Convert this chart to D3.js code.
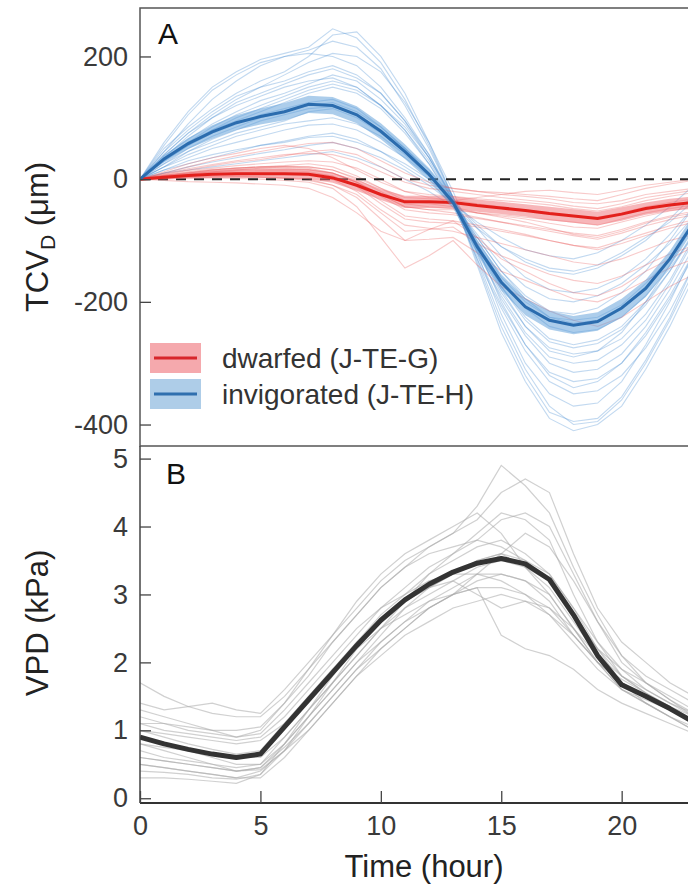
<!DOCTYPE html>
<html>
<head>
<meta charset="utf-8">
<script src="https://cdn.jsdelivr.net/npm/d3@7"></script>
<style>
    body { margin: 0; background: #fff; }
    svg { display: block; }
    text { font-family: "Liberation Sans", Arial, sans-serif; }
</style>
</head>
<body>
<div id="chart"></div>
<script>
// hours of the day (x values)
const hours = [0,1,2,3,4,5,6,7,8,9,10,11,12,13,14,15,16,17,18,19,20,21,22,23,24];

// panel A: mean TCV_D (um) and standard error per hour
const dwarfMean = [0,3,6,8,9,9,9,8,2,-10,-25,-37,-37,-38,-43,-47,-51,-56,-60,-64,-57,-48,-42,-38,-30];
const dwarfSE   = [0,4,5,6,7,7,8,8,8,9,9,10,10,10,10,10,10,11,11,11,11,10,10,10,10];
const invigMean = [0,33,58,77,92,102,110,122,120,105,78,45,8,-38,-110,-168,-208,-230,-238,-232,-210,-178,-130,-70,-10];
const invigSE   = [0,6,9,11,12,13,14,14,14,14,13,12,10,9,11,13,14,15,15,15,15,14,13,12,10];

// panel A: individual days, dwarfed (J-TE-G)
const dwarfDays = [
    [0,5,10,15,18,20,22,25,20,5,-15,-35,-40,-45,-55,-60,-65,-72,-78,-80,-70,-60,-52,-45,-38],
    [0,3,6,8,10,10,10,8,0,-20,-50,-75,-80,-85,-95,-105,-115,-125,-135,-140,-130,-115,-100,-90,-80],
    [0,8,15,22,28,32,38,45,48,40,20,0,-10,-15,-20,-25,-28,-32,-38,-40,-35,-25,-20,-15,-10],
    [0,2,4,5,5,4,2,0,-10,-30,-65,-100,-98,-95,-120,-150,-165,-180,-195,-200,-185,-165,-145,-130,-115],
    [0,6,12,16,18,20,20,18,10,-5,-25,-45,-50,-50,-55,-58,-62,-66,-70,-75,-65,-55,-48,-42,-35],
    [0,4,8,12,15,18,20,20,15,0,-20,-40,-45,-48,-55,-62,-70,-80,-90,-95,-85,-72,-62,-55,-48],
    [0,10,20,30,38,45,52,58,60,50,30,10,-5,-15,-20,-22,-25,-28,-32,-35,-25,-15,-8,-2,5],
    [0,1,2,2,1,0,-2,-5,-15,-45,-95,-145,-125,-100,-140,-175,-195,-215,-230,-240,-225,-200,-175,-155,-140],
    [0,5,10,14,16,18,18,16,10,-5,-25,-45,-50,-55,-62,-70,-78,-85,-92,-98,-88,-76,-66,-58,-50],
    [0,7,14,18,22,25,28,30,28,18,0,-20,-25,-28,-32,-35,-38,-42,-48,-52,-45,-35,-28,-22,-15],
    [0,3,5,8,10,12,12,10,5,-10,-35,-60,-65,-68,-75,-82,-90,-100,-108,-115,-105,-92,-80,-70,-62],
    [0,6,11,15,18,20,21,20,15,2,-15,-30,-32,-34,-40,-45,-50,-55,-60,-62,-55,-45,-38,-32,-26],
    [0,2,3,4,4,3,1,-2,-10,-25,-55,-85,-82,-78,-105,-125,-140,-155,-165,-170,-158,-140,-122,-108,-95],
    [0,9,17,24,30,35,40,42,40,30,12,-5,-15,-20,-25,-30,-34,-38,-44,-48,-40,-30,-24,-18,-12],
    [0,4,8,11,13,14,14,12,5,-12,-40,-65,-70,-72,-78,-85,-92,-100,-108,-112,-100,-88,-76,-66,-58],
    [0,5,9,12,14,16,16,15,10,-5,-28,-50,-55,-58,-64,-70,-76,-82,-88,-92,-82,-70,-60,-52,-44],
    [0,12,25,35,42,50,55,50,35,15,-5,-20,-30,-35,-30,-25,-20,-18,-22,-25,-18,-10,-5,0,5],
    [0,-2,-4,-5,-6,-8,-10,-15,-30,-55,-85,-100,-82,-68,-95,-130,-150,-170,-185,-190,-175,-150,-130,-110,-95]
];

// panel A: individual days, invigorated (J-TE-H)
const invigDays = [
    [0,45,90,130,160,185,200,210,225,215,180,120,50,-30,-120,-220,-300,-350,-370,-365,-330,-270,-200,-120,-50],
    [0,40,75,105,130,150,170,190,205,200,175,125,60,-20,-110,-200,-270,-320,-340,-330,-300,-250,-190,-120,-60],
    [0,30,60,85,105,120,135,150,160,150,120,80,30,-35,-120,-190,-250,-290,-300,-295,-270,-230,-170,-100,-40],
    [0,25,45,60,75,85,95,110,115,100,75,45,10,-35,-100,-160,-200,-225,-230,-225,-205,-170,-130,-75,-20],
    [0,15,25,35,45,55,62,70,75,65,45,20,-5,-40,-90,-140,-175,-195,-200,-190,-170,-140,-105,-60,-10],
    [0,10,15,20,25,30,35,40,45,35,20,0,-20,-45,-80,-110,-130,-145,-150,-140,-120,-95,-70,-35,0],
    [0,55,105,145,170,190,200,205,200,185,150,100,40,-35,-130,-230,-310,-370,-400,-395,-360,-300,-230,-150,-70],
    [0,35,70,100,125,140,155,170,180,165,140,95,40,-30,-110,-180,-240,-280,-290,-280,-250,-200,-140,-70,-10],
    [0,20,40,55,70,80,90,95,100,90,70,40,5,-40,-95,-150,-190,-215,-220,-210,-185,-150,-100,-45,10],
    [0,50,85,115,140,160,175,200,235,240,200,140,60,-30,-140,-250,-330,-390,-410,-400,-370,-310,-240,-160,-80],
    [0,30,55,75,90,105,115,125,130,115,85,50,10,-40,-110,-175,-225,-260,-270,-262,-240,-200,-150,-90,-30],
    [0,20,35,50,60,70,80,88,90,80,60,35,5,-35,-80,-125,-160,-180,-185,-178,-160,-130,-90,-45,5],
    [0,45,80,110,135,150,160,175,185,170,140,95,35,-35,-125,-205,-270,-315,-330,-325,-300,-255,-195,-125,-55],
    [0,15,30,40,48,55,60,68,70,60,45,25,0,-35,-75,-110,-135,-150,-155,-145,-125,-100,-65,-25,15],
    [0,35,60,80,95,110,125,140,150,140,115,75,25,-35,-115,-185,-240,-275,-285,-280,-260,-220,-165,-95,-30],
    [0,25,50,70,85,100,110,120,125,110,85,50,10,-40,-105,-165,-210,-240,-250,-245,-225,-190,-145,-90,-30],
    [0,40,75,100,120,135,150,160,165,150,120,80,25,-40,-130,-210,-280,-330,-350,-345,-320,-275,-215,-140,-60],
    [0,10,20,28,35,42,48,55,60,50,35,15,-10,-40,-70,-95,-115,-125,-130,-120,-100,-75,-45,-10,20],
    [0,30,55,80,100,115,130,145,155,145,120,85,35,-30,-105,-175,-230,-265,-275,-268,-245,-205,-150,-85,-25],
    [0,20,45,65,80,95,105,115,118,105,80,50,15,-35,-95,-150,-195,-225,-235,-230,-210,-175,-130,-75,-20],
    [0,60,110,150,175,195,205,215,245,230,190,130,55,-30,-135,-240,-320,-380,-395,-390,-355,-295,-225,-140,-60],
    [0,38,65,90,110,128,140,155,170,160,130,90,35,-32,-115,-195,-255,-300,-315,-310,-285,-240,-180,-110,-45]
];

// panel B: VPD (kPa)
const vpdMean = [0.90,0.80,0.72,0.65,0.60,0.65,1.05,1.45,1.85,2.25,2.62,2.92,3.15,3.33,3.46,3.53,3.45,3.22,2.70,2.10,1.67,1.50,1.32,1.12,1.00];
const vpdDays = [
    [1.7,1.5,1.35,1.25,1.2,1.2,1.5,1.9,2.3,2.7,3.1,3.4,3.7,3.9,4.3,4.9,4.6,4.2,3.4,2.7,2.1,1.8,1.6,1.4,1.3],
    [1.4,1.3,1.35,1.4,1.3,1.25,1.6,2.0,2.4,2.8,3.2,3.5,3.7,3.9,4.1,4.5,4.7,4.5,3.6,2.8,2.3,2.0,1.7,1.5,1.35],
    [0.3,0.3,0.28,0.25,0.22,0.35,0.8,1.3,1.8,2.3,2.7,3.0,3.3,3.5,3.7,3.8,3.6,3.3,2.8,2.3,1.9,1.7,1.45,1.2,1.0],
    [0.9,0.8,0.7,0.6,0.5,0.5,0.8,1.2,1.6,2.0,2.4,2.8,3.1,3.3,3.5,3.6,3.4,3.1,2.6,2.1,1.7,1.5,1.3,1.1,0.95],
    [1.2,1.1,1.0,0.95,0.9,0.95,1.3,1.7,2.1,2.5,2.8,3.0,3.2,3.3,3.3,3.2,3.0,2.7,2.3,1.9,1.6,1.45,1.3,1.15,1.0],
    [0.5,0.45,0.4,0.35,0.3,0.4,0.7,1.1,1.5,1.9,2.2,2.5,2.8,3.0,3.2,3.3,3.2,2.9,2.4,2.0,1.6,1.4,1.2,1.0,0.85],
    [1.3,1.2,1.1,1.0,0.9,1.0,1.4,1.9,2.4,2.9,3.3,3.6,3.8,4.0,4.2,3.9,3.4,3.0,2.5,2.0,1.7,1.5,1.3,1.15,1.0],
    [0.7,0.6,0.55,0.5,0.45,0.5,0.9,1.3,1.7,2.1,2.5,2.8,3.0,3.2,3.4,3.5,3.4,3.2,2.7,2.2,1.8,1.55,1.35,1.15,1.0],
    [1.0,0.95,0.9,0.85,0.8,0.85,1.1,1.5,1.9,2.2,2.5,2.7,2.9,3.0,3.1,2.4,2.2,2.1,1.9,1.6,1.4,1.25,1.1,0.95,0.85],
    [0.8,0.7,0.6,0.5,0.4,0.45,0.8,1.2,1.6,2.0,2.3,2.6,2.8,3.0,3.3,3.6,3.9,3.7,3.2,2.6,2.1,1.7,1.45,1.25,1.1],
    [1.1,1.0,0.95,0.9,0.85,0.9,1.2,1.6,2.0,2.4,2.8,3.1,3.4,3.6,3.8,4.1,4.2,4.0,3.3,2.6,2.0,1.7,1.5,1.3,1.2],
    [0.6,0.55,0.5,0.45,0.4,0.42,0.7,1.0,1.4,1.8,2.1,2.4,2.6,2.8,2.9,3.0,2.9,2.7,2.4,2.0,1.7,1.5,1.3,1.1,0.95],
    [0.4,0.38,0.35,0.3,0.28,0.35,0.7,1.2,1.7,2.2,2.6,2.9,3.1,3.3,3.5,3.6,3.5,3.3,2.8,2.2,1.7,1.4,1.2,1.0,0.9],
    [1.0,0.9,0.8,0.72,0.65,0.7,1.1,1.5,1.9,2.3,2.6,2.9,3.1,3.2,3.0,2.8,2.9,2.8,2.4,2.0,1.75,1.55,1.35,1.2,1.05],
    [0.8,0.75,0.7,0.65,0.6,0.6,0.9,1.3,1.7,2.1,2.5,2.9,3.3,3.6,3.9,4.2,4.1,3.8,3.0,2.3,1.8,1.6,1.4,1.2,1.1],
    [0.5,0.45,0.4,0.35,0.3,0.3,0.6,1.0,1.4,1.8,2.2,2.5,2.8,3.0,3.1,3.1,3.0,2.8,2.5,2.1,1.8,1.55,1.3,1.1,0.95],
    [1.1,1.1,1.05,1.0,1.0,1.05,1.4,1.8,2.3,2.7,3.1,3.4,3.6,3.7,3.8,3.7,3.5,3.2,2.7,2.2,1.9,1.6,1.4,1.25,1.1],
    [0.6,0.55,0.5,0.45,0.4,0.45,0.75,1.1,1.5,1.9,2.3,2.6,2.9,3.1,3.3,3.3,3.2,3.0,2.5,2.0,1.6,1.4,1.2,1.05,0.9]
];

// tick labels and legend
const xTicks = [0, 5, 10, 15, 20];
const yTicksA = [-400, -200, 0, 200];
const yTicksB = [0, 1, 2, 3, 4, 5];
const legendLabels = ["dwarfed (J-TE-G)", "invigorated (J-TE-H)"];

function init() {
    const W = 688, H = 884;
    const left = 140, right = 718, topA = 8, botA = 446, botB = 803;

    const svg = d3.select("#chart").append("svg")
        .attr("width", W)
        .attr("height", H);

    // scales
    const x = d3.scaleLinear().domain([0, 24]).range([left, right]);
    const yA = d3.scaleLinear().domain([-435, 279]).range([botA, topA]);
    const yB = d3.scaleLinear().domain([-0.07, 5.2]).range([botB, botA - 1]);

    // clip paths for both panels
    const defs = svg.append("defs");
    defs.append("clipPath").attr("id", "clipA").append("rect")
        .attr("x", left).attr("y", topA).attr("width", right - left).attr("height", botA - topA);
    defs.append("clipPath").attr("id", "clipB").append("rect")
        .attr("x", left).attr("y", botA).attr("width", right - left).attr("height", botB - botA);

    const lineA = d3.line().x((d, i) => x(hours[i])).y(d => yA(d));
    const lineB = d3.line().x((d, i) => x(hours[i])).y(d => yB(d));
    const bandA = (mean, se) => d3.area()
        .x((d, i) => x(hours[i]))
        .y0((d, i) => yA(mean[i] - se[i]))
        .y1((d, i) => yA(mean[i] + se[i]))(mean);

    // ---- panel A ----
    const gA = svg.append("g").attr("clip-path", "url(#clipA)");

    gA.selectAll(".invigDay")
        .data(invigDays)
        .enter().append("path")
        .attr("d", lineA)
        .attr("fill", "none")
        .attr("stroke", "rgba(70,140,210,0.33)")
        .attr("stroke-width", 1.1);

    gA.selectAll(".dwarfDay")
        .data(dwarfDays)
        .enter().append("path")
        .attr("d", lineA)
        .attr("fill", "none")
        .attr("stroke", "rgba(232,80,80,0.3)")
        .attr("stroke-width", 1.1);

    // zero reference line
    gA.append("line")
        .attr("x1", left).attr("x2", right)
        .attr("y1", yA(0)).attr("y2", yA(0))
        .attr("stroke", "#222")
        .attr("stroke-width", 2)
        .attr("stroke-dasharray", "10,8");

    // mean lines with SE bands
    gA.append("path").attr("d", bandA(dwarfMean, dwarfSE)).attr("fill", "rgba(240,110,115,0.5)");
    gA.append("path").attr("d", lineA(dwarfMean)).attr("fill", "none").attr("stroke", "#e3201c").attr("stroke-width", 3);
    gA.append("path").attr("d", bandA(invigMean, invigSE)).attr("fill", "rgba(90,155,215,0.5)");
    gA.append("path").attr("d", lineA(invigMean)).attr("fill", "none").attr("stroke", "#2b6cae").attr("stroke-width", 3);

    // ---- panel B ----
    const gB = svg.append("g").attr("clip-path", "url(#clipB)");

    gB.selectAll(".vpdDay")
        .data(vpdDays)
        .enter().append("path")
        .attr("d", lineB)
        .attr("fill", "none")
        .attr("stroke", "rgba(170,170,170,0.55)")
        .attr("stroke-width", 1.2);

    gB.append("path")
        .attr("d", lineB(vpdMean))
        .attr("fill", "none")
        .attr("stroke", "#333")
        .attr("stroke-width", 5)
        .attr("stroke-linejoin", "round");

    // ---- frames and axes ----
    svg.append("rect")
        .attr("x", left).attr("y", topA)
        .attr("width", right - left + 20).attr("height", botA - topA)
        .attr("fill", "none").attr("stroke", "#555").attr("stroke-width", 1.5);
    svg.append("line")
        .attr("x1", left).attr("x2", left).attr("y1", botA).attr("y2", botB)
        .attr("stroke", "#444").attr("stroke-width", 1.5);
    svg.append("line")
        .attr("x1", left).attr("x2", W).attr("y1", botB).attr("y2", botB)
        .attr("stroke", "#333").attr("stroke-width", 2);

    function styleAxis(g) {
        g.select(".domain").remove();
        g.selectAll(".tick line").attr("stroke", "#444").attr("stroke-width", 1.3);
        g.selectAll(".tick text")
            .attr("fill", "#3a3a3a")
            .style("font-size", "27px")
            .style("font-family", "'Liberation Sans', Arial, sans-serif");
    }
    const plain = d => String(d);

    svg.append("g")
        .attr("transform", `translate(${left},0)`)
        .call(d3.axisLeft(yA).tickValues(yTicksA).tickFormat(plain).tickSize(-11).tickPadding(12))
        .call(styleAxis);

    svg.append("g")
        .attr("transform", `translate(${left},0)`)
        .call(d3.axisLeft(yB).tickValues(yTicksB).tickFormat(plain).tickSize(-11).tickPadding(12))
        .call(styleAxis);

    svg.append("g")
        .attr("transform", `translate(0,${botB})`)
        .call(d3.axisBottom(x).tickValues(xTicks).tickFormat(plain).tickSize(-12).tickPadding(13))
        .call(styleAxis);

    // panel letters
    svg.append("text").attr("x", 158).attr("y", 44).text("A")
        .style("font-size", "30px").attr("fill", "#111");
    svg.append("text").attr("x", 166).attr("y", 484).text("B")
        .style("font-size", "30px").attr("fill", "#111");

    // axis titles
    const tA = svg.append("text")
        .attr("transform", "translate(48,237) rotate(-90)")
        .attr("text-anchor", "middle")
        .attr("fill", "#222")
        .style("font-size", "31px");
    tA.append("tspan").text("TCV");
    tA.append("tspan").attr("dy", 7).style("font-size", "21px").text("D");
    tA.append("tspan").attr("dy", -7).text(" (\u03bcm)");

    svg.append("text")
        .attr("transform", "translate(48,623) rotate(-90)")
        .attr("text-anchor", "middle")
        .attr("fill", "#222")
        .style("font-size", "31px")
        .text("VPD (kPa)");

    svg.append("text")
        .attr("x", 424).attr("y", 877)
        .attr("text-anchor", "middle")
        .attr("fill", "#222")
        .style("font-size", "31px")
        .text("Time (hour)");

    // legend
    const swatchFill = ["#f5a9ad", "#aecde8"];
    const swatchLine = ["#d7262b", "#2f6fae"];
    const leg = svg.append("g").selectAll("g")
        .data(legendLabels)
        .enter().append("g")
        .attr("transform", (d, i) => `translate(150,${343 + i * 36})`);
    leg.append("rect")
        .attr("width", 51).attr("height", 30)
        .attr("fill", (d, i) => swatchFill[i]);
    leg.append("line")
        .attr("x1", 4).attr("x2", 47).attr("y1", 15).attr("y2", 15)
        .attr("stroke", (d, i) => swatchLine[i]).attr("stroke-width", 3);
    leg.append("text")
        .attr("x", 72).attr("y", 25)
        .attr("fill", "#333")
        .style("font-size", "28px")
        .text(d => d);
}

window.onload = init;
</script>
</body>
</html>
